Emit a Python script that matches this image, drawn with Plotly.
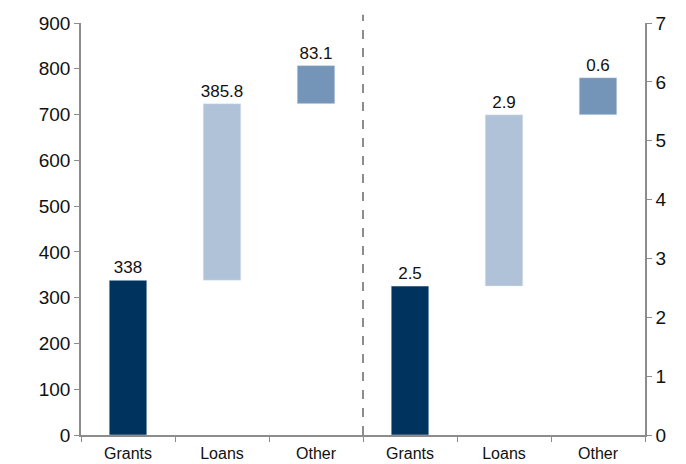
import plotly.graph_objects as go

categories = ["Grants", "Loans", "Other"]
left_values = [338, 385.8, 83.1]
right_values = [2.53, 2.91, 0.63]
left_labels = ["338", "385.8", "83.1"]
right_labels = ["2.5", "2.9", "0.6"]
colors = ["#00335E", "#B0C2D8", "#7494B8"]
left_ticks = [0, 100, 200, 300, 400, 500, 600, 700, 800, 900]
right_ticks = [0, 1, 2, 3, 4, 5, 6, 7]

def bases(vals):
    out, s = [], 0
    for v in vals:
        out.append(s)
        s += v
    return out

fig = go.Figure()
xl = list(range(len(categories)))
xr = [i + len(categories) for i in range(len(categories))]
fig.add_trace(go.Bar(x=xl, y=left_values, base=bases(left_values), marker_color=colors,
                     text=left_labels, textposition="outside", cliponaxis=False,
                     constraintext="none",
                     textfont=dict(size=17, color="#111"), width=0.4, yaxis="y"))
fig.add_trace(go.Bar(x=xr, y=right_values, base=bases(right_values), marker_color=colors,
                     text=right_labels, textposition="outside", cliponaxis=False,
                     constraintext="none",
                     textfont=dict(size=17, color="#111"), width=0.4, yaxis="y2"))

fig.add_shape(type="line", xref="x", yref="paper", x0=2.5, x1=2.5, y0=0, y1=1.02,
              line=dict(color="#8C8C8C", width=2, dash="dash"))

n = 2 * len(categories)
fig.update_layout(
    width=686, height=464, showlegend=False,
    paper_bgcolor="white", plot_bgcolor="white",
    margin=dict(l=81, r=41, t=23, b=29),
    font=dict(family="Liberation Sans, Arial, sans-serif", size=17, color="#111"),
    bargap=0.6,
    xaxis=dict(range=[-0.5, n - 0.5], tickmode="array", tickvals=list(range(n)),
               ticktext=categories + categories, ticks="", showgrid=False, zeroline=False,
               showline=True, linecolor="#8C8C8C", linewidth=1.5, automargin=False,
               tickfont=dict(size=16), ticklabelstandoff=3,
               minor=dict(tickmode="array", tickvals=[i - 0.5 for i in range(n + 1)],
                          ticks="outside", ticklen=5, tickcolor="#8C8C8C", showgrid=False)),
    yaxis=dict(range=[0, 900], tickmode="array", tickvals=left_ticks, showgrid=False,
               zeroline=False, showline=True, linecolor="#8C8C8C", linewidth=1.5,
               ticks="outside", ticklen=5, tickcolor="#8C8C8C", tickfont=dict(size=19),
               automargin=False),
    yaxis2=dict(range=[0, 7], tickmode="array", tickvals=right_ticks, overlaying="y",
                side="right", showgrid=False, zeroline=False, showline=True,
                linecolor="#8C8C8C", linewidth=1.5, ticks="outside", ticklen=5,
                tickcolor="#8C8C8C", tickfont=dict(size=19), automargin=False),
)

fig.write_html("out.html")
